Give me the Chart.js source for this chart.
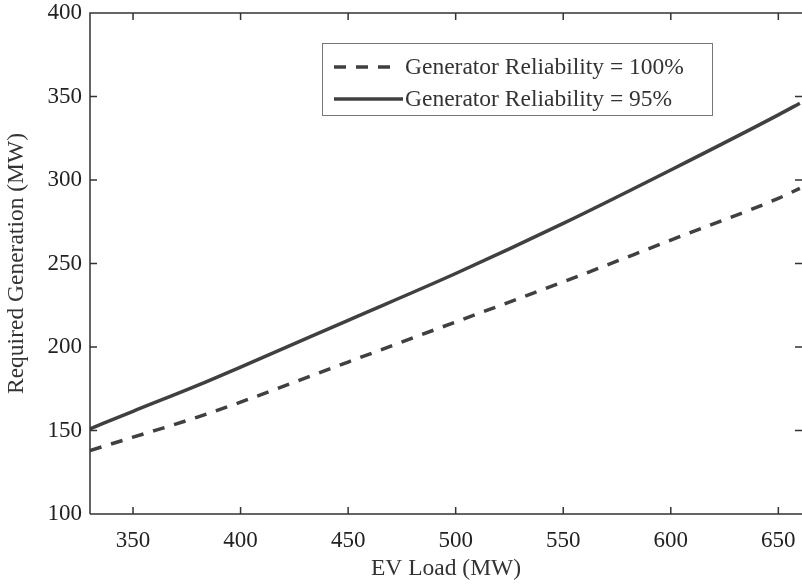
<!DOCTYPE html>
<html>
<head>
<meta charset="utf-8">
<script src="https://cdn.jsdelivr.net/npm/chart.js@4"></script>
<style>
  html, body { margin: 0; padding: 0; background: #fff; }
  #wrap { width: 802px; height: 584px; position: relative; }
</style>
</head>
<body>
<div id="wrap"><canvas id="genChart"></canvas></div>
<script>
/* ===============================
   DATA
================================= */
const loadMW = [330, 350, 380, 400, 450, 500, 550, 600, 650, 660];
const genRel100 = [138, 146, 158, 167, 191, 215, 239, 264, 289, 295];
const genRel95 = [151, 161.5, 177, 188, 216, 244, 274, 306, 339, 346];
const xTickVals = [350, 400, 450, 500, 550, 600, 650];
const yTickVals = [100, 150, 200, 250, 300, 350, 400];
const seriesLabels = ['Generator Reliability = 100%', 'Generator Reliability = 95%'];

const serif = '"Liberation Serif", "Times New Roman", serif';
const ink = '#404040';

function toPoints(ys) {
    return loadMW.map((x, i) => ({ x: x, y: ys[i] }));
}

/* ===============================
   FRAME + INWARD TICKS + LEGEND
================================= */
const framePlugin = {
    id: 'frame',
    afterDatasetsDraw(chart) {
        const { ctx, chartArea: a, scales } = chart;
        const tl = 7;
        ctx.save();
        ctx.strokeStyle = '#333';
        ctx.lineWidth = 1.5;
        ctx.beginPath();
        ctx.moveTo(a.left, a.bottom);
        ctx.lineTo(a.left, a.top);
        ctx.lineTo(a.right, a.top);
        ctx.moveTo(a.left, a.bottom);
        ctx.lineTo(a.right, a.bottom);
        xTickVals.forEach(v => {
            const px = scales.x.getPixelForValue(v);
            ctx.moveTo(px, a.bottom); ctx.lineTo(px, a.bottom - tl);
            ctx.moveTo(px, a.top); ctx.lineTo(px, a.top + tl);
        });
        yTickVals.forEach(v => {
            const py = scales.y.getPixelForValue(v);
            ctx.moveTo(a.left, py); ctx.lineTo(a.left + tl, py);
            ctx.moveTo(a.right, py); ctx.lineTo(a.right - tl, py);
        });
        ctx.stroke();

        // legend box
        const bx = 322.5, by = 43.5, bw = 390, bh = 72;
        ctx.fillStyle = '#fff';
        ctx.fillRect(bx, by, bw, bh);
        ctx.strokeStyle = '#777';
        ctx.lineWidth = 1;
        ctx.strokeRect(bx, by, bw, bh);
        ctx.font = '23.5px ' + serif;
        ctx.textBaseline = 'middle';
        ctx.fillStyle = '#333';
        chart.data.datasets.forEach((ds, i) => {
            const ly = 67 + i * 32;
            ctx.strokeStyle = ds.borderColor;
            ctx.lineWidth = 3.5;
            ctx.setLineDash(ds.borderDash || []);
            ctx.beginPath();
            ctx.moveTo(334, ly);
            ctx.lineTo(i === 0 ? 397 : 403, ly);
            ctx.stroke();
            ctx.setLineDash([]);
            ctx.fillText(ds.label, 405, ly + 1);
        });
        ctx.restore();
    }
};

/* ===============================
   CHART
================================= */
new Chart(document.getElementById('genChart'), {
    type: 'line',
    data: {
        datasets: [
            {
                label: seriesLabels[0],
                data: toPoints(genRel100),
                borderColor: ink,
                borderWidth: 3.5,
                borderDash: [12, 10],
                pointRadius: 0,
                cubicInterpolationMode: 'monotone',
                fill: false
            },
            {
                label: seriesLabels[1],
                data: toPoints(genRel95),
                borderColor: ink,
                borderWidth: 3.5,
                pointRadius: 0,
                cubicInterpolationMode: 'monotone',
                fill: false
            }
        ]
    },
    options: {
        responsive: true,
        maintainAspectRatio: false,
        animation: false,
        layout: { padding: { top: 13, right: 0, left: 0, bottom: 0 } },
        plugins: { legend: { display: false }, tooltip: { enabled: false } },
        scales: {
            x: {
                type: 'linear',
                min: 330,
                max: 661,
                afterFit: s => { s.height = 70; s.paddingLeft = 0; s.paddingRight = 0; },
                afterBuildTicks: s => { s.ticks = xTickVals.map(v => ({ value: v })); },
                grid: { display: false, drawTicks: false },
                border: { display: false },
                ticks: { color: '#222', font: { family: serif, size: 23 }, padding: 13, maxRotation: 0 },
                title: { display: true, text: 'EV Load (MW)', color: '#333', font: { family: serif, size: 23.5 }, padding: { top: 0, bottom: 1 } }
            },
            y: {
                min: 100,
                max: 400,
                afterFit: s => { s.width = 90; s.paddingTop = 0; s.paddingBottom = 0; },
                afterBuildTicks: s => { s.ticks = yTickVals.map(v => ({ value: v })); },
                grid: { display: false, drawTicks: false },
                border: { display: false },
                ticks: { color: '#222', font: { family: serif, size: 23 }, padding: 8 },
                title: { display: true, text: 'Required Generation (MW)', color: '#333', font: { family: serif, size: 23.5 }, padding: { top: 3, bottom: 0 } }
            }
        }
    },
    plugins: [framePlugin]
});
</script>
</body>
</html>
